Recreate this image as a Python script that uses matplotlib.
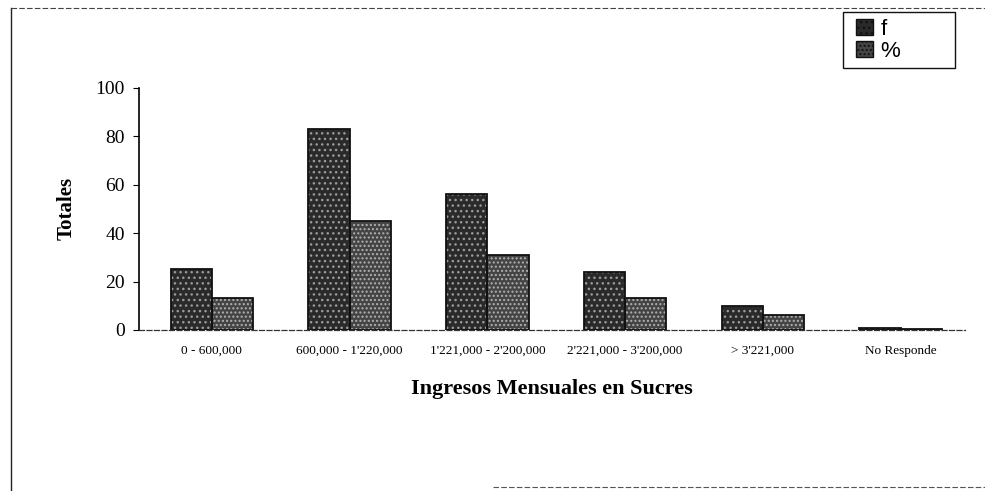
import numpy as np
import matplotlib.pyplot as plt
from matplotlib.lines import Line2D
from matplotlib.patches import Rectangle

# datos
categorias = ['0 - 600,000', "600,000 - 1'220,000", "1'221,000 - 2'200,000",
              "2'221,000 - 3'200,000", "> 3'221,000", 'No Responde']
f = [25, 83, 56, 24, 10, 1]
pct = [13, 45, 31, 13, 6, 0.5]

fig = plt.figure(figsize=(9.85, 4.91), dpi=100)
ax = fig.add_axes([0.141, 0.328, 0.839, 0.493])

x = np.arange(len(categorias))
w = 0.3

# relleno con textura (imitando el escaneo) y borde negro
ax.bar(x - w/2, f, w, color='#2a2a2a', hatch='...', edgecolor='#9a9a9a', linewidth=0)
ax.bar(x + w/2, pct, w, color='#444444', hatch='....', edgecolor='#b0b0b0', linewidth=0)
ax.bar(x - w/2, f, w, fill=False, edgecolor='#111111', linewidth=1.3)
ax.bar(x + w/2, pct, w, fill=False, edgecolor='#111111', linewidth=1.3)

ax.set_xlim(-0.53, len(categorias) - 0.53)
ax.set_ylim(0, 100)
ax.set_yticks([0, 20, 40, 60, 80, 100])
ax.set_xticks(x)
ax.set_xticklabels(categorias, fontsize=9.5, family='Liberation Serif')
ax.tick_params(axis='x', length=0, pad=11)
ax.tick_params(axis='y', length=4, width=0.8, labelsize=14, pad=6)
for t in ax.get_yticklabels():
    t.set_family('Liberation Serif')

ax.spines['top'].set_visible(False)
ax.spines['right'].set_visible(False)
ax.spines['left'].set_linewidth(1.2)
ax.spines['bottom'].set_linestyle((0, (4, 2)))
ax.spines['bottom'].set_color('#333333')
ax.spines['bottom'].set_linewidth(0.9)

ax.set_ylabel('Totales', fontsize=15, fontweight='bold', family='Liberation Serif', labelpad=14)
ax.set_xlabel('Ingresos Mensuales en Sucres', fontsize=16, fontweight='bold',
              family='Liberation Serif', labelpad=16)

# leyenda con marco propio
hf = Rectangle((0, 0), 1, 1, facecolor='#2a2a2a', hatch='...', edgecolor='#111111')
hp = Rectangle((0, 0), 1, 1, facecolor='#444444', hatch='....', edgecolor='#111111')
fig.legend([hf, hp], ['f', '%'], loc='upper left', bbox_to_anchor=(0.869, 0.962),
           frameon=False, prop={'family': 'Liberation Sans', 'size': 16},
           handlelength=0.75, handleheight=0.75, handletextpad=0.35, labelspacing=0.05,
           borderpad=0, borderaxespad=0)
fig.add_artist(Rectangle((0.856, 0.8615), 0.114, 0.114, transform=fig.transFigure,
                         fill=False, edgecolor='#111111', linewidth=1.0))

# marco exterior del escaneo
fig.add_artist(Line2D([0.011, 0.011], [0.0, 0.983], color='#222222', linewidth=1.0))
fig.add_artist(Line2D([0.011, 1.0], [0.983, 0.983], color='#444444', linewidth=0.8, linestyle=(0, (5, 2))))
fig.add_artist(Line2D([0.50, 1.0], [0.008, 0.008], color='#555555', linewidth=0.8, linestyle=(0, (5, 2))))

fig.savefig('out.png', dpi=100)
